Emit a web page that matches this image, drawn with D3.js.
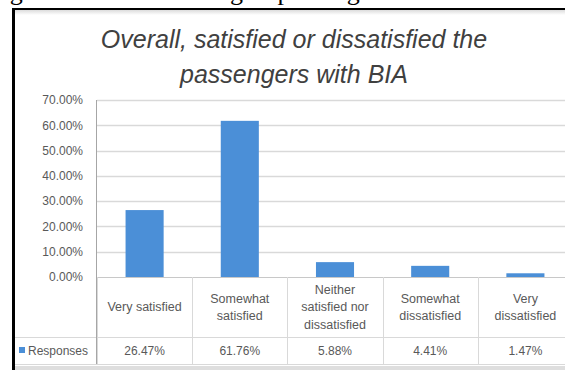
<!DOCTYPE html>
<html>
<head>
<meta charset="utf-8">
<script src="https://cdn.jsdelivr.net/npm/d3@7/dist/d3.min.js"></script>
<style>
  html, body { margin: 0; padding: 0; background: #ffffff; }
  svg { display: block; }
</style>
</head>
<body>
<svg id="chart" width="565" height="370"></svg>
<script>
// ---- data ----
const captionText = "Figure 9: Overall Rating of passenger satisfaction";
const titleLines = ["Overall, satisfied or dissatisfied the", "passengers with BIA"];
const categories = ["Very satisfied", "Somewhat satisfied", "Neither satisfied nor dissatisfied", "Somewhat dissatisfied", "Very dissatisfied"];
const categoryLines = [["Very satisfied"], ["Somewhat", "satisfied"], ["Neither", "satisfied nor", "dissatisfied"], ["Somewhat", "dissatisfied"], ["Very", "dissatisfied"]];
const seriesName = "Responses";
const values = [26.47, 61.76, 5.88, 4.41, 1.47];
const yTicks = [0, 10, 20, 30, 40, 50, 60, 70];

// ---- layout ----
const svg = d3.select("#chart");
const W = 565, H = 370;
const plotLeft = 97, plotRight = 573, plotTop = 100, plotBottom = 277;
const tableMid = 337, tableBottom = 364, tableLeft = 15;
const textGray = "#595959", gridGray = "#d9d9d9", barColor = "#4b8fd7";

svg.append("rect").attr("width", W).attr("height", H).attr("fill", "#ffffff");

// caption (page text above the figure, cut off at the top edge)
svg.append("text").attr("x", -12).attr("y", 0)
  .attr("font-family", "'Liberation Serif', 'Times New Roman', serif")
  .attr("font-size", 26).attr("fill", "#000").text(captionText);

// frame
const defs = svg.append("defs");
const grad = defs.append("linearGradient").attr("id", "topStrip").attr("x1", 0).attr("x2", 0).attr("y1", 0).attr("y2", 1);
grad.append("stop").attr("offset", "0%").attr("stop-color", "#dcdcdc");
grad.append("stop").attr("offset", "100%").attr("stop-color", "#ffffff");
svg.append("rect").attr("x", 15).attr("y", 10).attr("width", W - 15).attr("height", 5).attr("fill", "url(#topStrip)");
svg.append("rect").attr("x", 15).attr("y", 366).attr("width", W - 15).attr("height", 4).attr("fill", "#dedede");
svg.append("line").attr("x1", 12).attr("x2", W).attr("y1", 9).attr("y2", 9).attr("stroke", "#000").attr("stroke-width", 2);
svg.append("line").attr("x1", 13.5).attr("x2", 13.5).attr("y1", 8).attr("y2", H).attr("stroke", "#000").attr("stroke-width", 3);

// title
svg.append("g").selectAll("text").data(titleLines).join("text")
  .attr("x", 294).attr("y", (d, i) => 48 + i * 35)
  .attr("text-anchor", "middle")
  .attr("font-family", "'Liberation Sans', Arial, sans-serif")
  .attr("font-style", "italic").attr("font-size", 25).attr("fill", "#404040")
  .text(d => d);

// scales
const x = d3.scaleBand().domain(categories).range([plotLeft, plotRight]).paddingInner(0).paddingOuter(0);
const y = d3.scaleLinear().domain([0, 70]).range([plotBottom, plotTop]);

// gridlines
svg.append("g").selectAll("line").data(yTicks.filter(d => d > 0)).join("line")
  .attr("x1", plotLeft).attr("x2", plotRight)
  .attr("y1", d => Math.round(y(d)) + 0.5).attr("y2", d => Math.round(y(d)) + 0.5)
  .attr("stroke", gridGray).attr("stroke-width", 1.5);

// y axis labels via d3 axis
const yAxis = d3.axisLeft(y).tickValues(yTicks).tickFormat(d => d.toFixed(2) + "%").tickSize(0).tickPadding(14);
const yg = svg.append("g").attr("transform", `translate(${plotLeft},0)`).call(yAxis);
yg.select(".domain").remove();
yg.selectAll("text").attr("font-family", "'Liberation Sans', Arial, sans-serif").attr("font-size", 12).attr("fill", textGray);

// bars
const barW = x.bandwidth() * 0.4;
svg.append("g").selectAll("rect").data(values).join("rect")
  .attr("x", (d, i) => x(categories[i]) + (x.bandwidth() - barW) / 2)
  .attr("width", barW)
  .attr("y", d => y(d))
  .attr("height", d => y(0) - y(d))
  .attr("fill", barColor);

// table lines
const tg = svg.append("g");
tg.append("line").attr("x1", plotLeft).attr("x2", plotRight).attr("y1", plotBottom + 0.5).attr("y2", plotBottom + 0.5).attr("stroke", "#c8c8c8");
tg.append("line").attr("x1", tableLeft).attr("x2", plotRight).attr("y1", tableMid + 0.5).attr("y2", tableMid + 0.5).attr("stroke", gridGray);
tg.append("line").attr("x1", tableLeft).attr("x2", plotRight).attr("y1", tableBottom + 0.5).attr("y2", tableBottom + 0.5).attr("stroke", gridGray);
tg.selectAll(".vl").data(categories).join("line").attr("class", "vl")
  .attr("x1", d => Math.round(x(d)) + 0.5).attr("x2", d => Math.round(x(d)) + 0.5)
  .attr("y1", plotBottom).attr("y2", tableBottom)
  .attr("stroke", gridGray);
// y axis line
svg.append("line").attr("x1", plotLeft - 0.5).attr("x2", plotLeft - 0.5).attr("y1", plotTop).attr("y2", tableBottom).attr("stroke", "#a6a6a6");

// category labels
const lineH = 17.5;
const catG = svg.append("g").selectAll("text").data(categories).join("text")
  .attr("text-anchor", "middle")
  .attr("font-family", "'Liberation Sans', Arial, sans-serif")
  .attr("font-size", 12.5).attr("fill", textGray);
catG.each(function (d, i) {
  const lines = categoryLines[i];
  const cx = x(d) + x.bandwidth() / 2;
  const mid = (plotBottom + tableMid) / 2;
  const y0 = mid - (lines.length - 1) * lineH / 2;
  d3.select(this).selectAll("tspan").data(lines).join("tspan")
    .attr("x", cx).attr("y", (l, j) => y0 + j * lineH).attr("dy", "0.35em").text(l => l);
});

// values row
svg.append("g").selectAll("text").data(values).join("text")
  .attr("x", (d, i) => x(categories[i]) + x.bandwidth() / 2)
  .attr("y", (tableMid + tableBottom) / 2).attr("dy", "0.35em")
  .attr("text-anchor", "middle")
  .attr("font-family", "'Liberation Sans', Arial, sans-serif")
  .attr("font-size", 12).attr("fill", textGray)
  .text(d => d.toFixed(2) + "%");

// legend key in table
svg.append("rect").attr("x", 19).attr("y", 347).attr("width", 6).attr("height", 6).attr("fill", barColor);
svg.append("text").attr("x", 28).attr("y", (tableMid + tableBottom) / 2).attr("dy", "0.35em")
  .attr("font-family", "'Liberation Sans', Arial, sans-serif")
  .attr("font-size", 12).attr("fill", textGray).text(seriesName);
</script>
</body>
</html>
